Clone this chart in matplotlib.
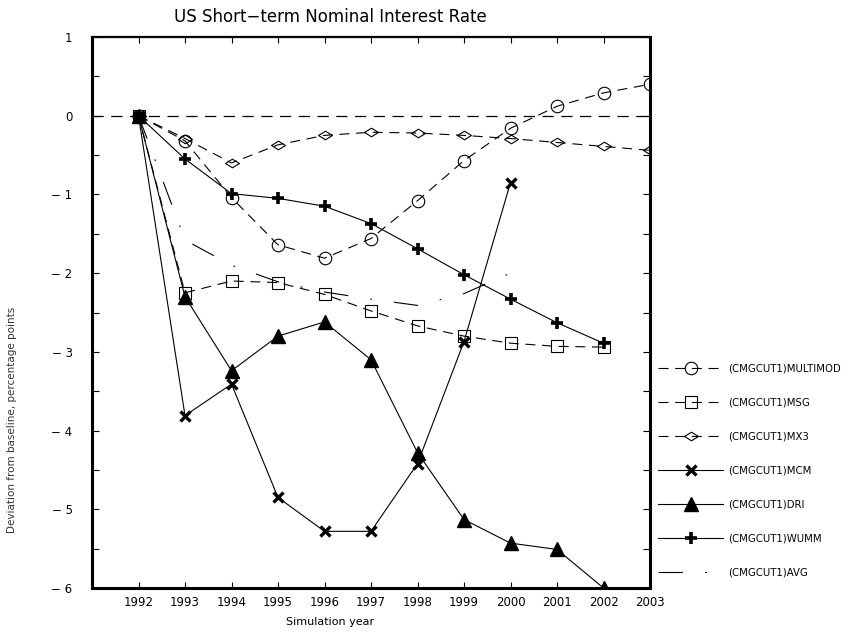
# -*- coding: utf-8 -*-
"""
US short-term nominal interest rate: deviation from baseline by model.
"""
import numpy as np
import matplotlib.pyplot as plt
from matplotlib.path import Path
from matplotlib.ticker import MultipleLocator

years = np.arange(1992, 2004)

multimod = [0, -0.32, -1.04, -1.64, -1.81, -1.56, -1.08, -0.57, -0.16, 0.12, 0.29, 0.40]
msg = [0, -2.25, -2.10, -2.12, -2.27, -2.48, -2.67, -2.80, -2.89, -2.93, -2.94]
mx3 = [0, -0.29, -0.60, -0.37, -0.25, -0.21, -0.22, -0.25, -0.29, -0.34, -0.39, -0.44]
mcm = [0, -3.81, -3.41, -4.85, -5.28, -5.28, -4.42, -2.87, -0.85]
dri = [0, -2.30, -3.24, -2.80, -2.62, -3.10, -4.28, -5.13, -5.43, -5.51, -6.00]
wumm = [0, -0.55, -0.99, -1.05, -1.15, -1.37, -1.69, -2.02, -2.33, -2.63, -2.89]
avg = [0, -1.58, -1.90, -2.11, -2.24, -2.33, -2.41, -2.26, -2.00]

yticks = [-6, -5, -4, -3, -2, -1, 0, 1]
ytick_labels = ["\u2212 6", "\u2212 5", "\u2212 4", "\u2212 3", "\u2212 2", "\u2212 1", "0", "1"]

# flat diamond
diamond = Path([(-1, 0), (0, 0.62), (1, 0), (0, -0.62), (-1, 0)],
               [Path.MOVETO, Path.LINETO, Path.LINETO, Path.LINETO, Path.CLOSEPOLY])

fig = plt.figure(figsize=(8.51, 6.33), dpi=100)
ax = fig.add_axes([92/851, 45/633, 558/851, 551/633])

dash = (0, (9, 6))
k = dict(color="black", lw=0.8)
ax.axhline(0, color="black", lw=0.9, ls=(0, (9, 6)))

ax.plot(years[:len(multimod)], multimod, ls=dash, marker="o", ms=9, mfc="none",
        mew=0.8, label="(CMGCUT1)MULTIMOD", **k)
ax.plot(years[:len(msg)], msg, ls=dash, marker="s", ms=8, mfc="none",
        mew=0.8, label="(CMGCUT1)MSG", **k)
ax.plot(years[:len(mx3)], mx3, ls=dash, marker=diamond, ms=10, mfc="none",
        mew=0.8, label="(CMGCUT1)MX3", **k)
ax.plot(years[:len(mcm)], mcm, ls="-", marker="x", ms=6.5, mew=2.4,
        label="(CMGCUT1)MCM", **k)
ax.plot(years[:len(dri)], dri, ls="-", marker="^", ms=10, mfc="black",
        label="(CMGCUT1)DRI", **k)
ax.plot(years[:len(wumm)], wumm, ls="-", marker="+", ms=8.5, mew=2.6,
        label="(CMGCUT1)WUMM", **k)
ax.plot(years[:len(avg)], avg, ls=(0, (22, 20, 1.5, 20)),
        label="(CMGCUT1)AVG", **k)

ax.set_xlim(1991, 2003)
ax.set_ylim(-6, 1)
ax.set_xticks(years)
ax.set_xticklabels([str(y) for y in years], fontsize=8.5)
ax.set_yticks(yticks)
ax.set_yticklabels(ytick_labels, fontsize=8.5)
ax.yaxis.set_minor_locator(MultipleLocator(0.5))

ax.tick_params(axis="x", direction="in", length=4, width=0.8, top=True, pad=6)
ax.tick_params(axis="y", which="both", direction="in", length=5, width=0.8,
               right=True, pad=14)
for side in ["left", "bottom", "right"]:
    ax.spines[side].set_linewidth(2.2)
ax.spines["top"].set_linewidth(1.6)

fig.text(330/851, 1 - 17/633, "US Short\u2212term Nominal Interest Rate",
         ha="center", va="center", fontsize=12)
fig.text(330/851, 1 - 622/633, "Simulation year", ha="center", va="center",
         fontsize=8)
fig.text(12/851, 1 - 420/633, "Deviation from baseline, percentage points",
         rotation=90, ha="center", va="center", fontsize=7.5, color="#333333")

fig.legend(loc="upper left", bbox_to_anchor=(654/851, 1 - 359/633),
           frameon=False, numpoints=1, fontsize=7.3, handlelength=6.4,
           handletextpad=0.5, labelspacing=2.38, borderaxespad=0)

fig.savefig("out.png", dpi=100)
